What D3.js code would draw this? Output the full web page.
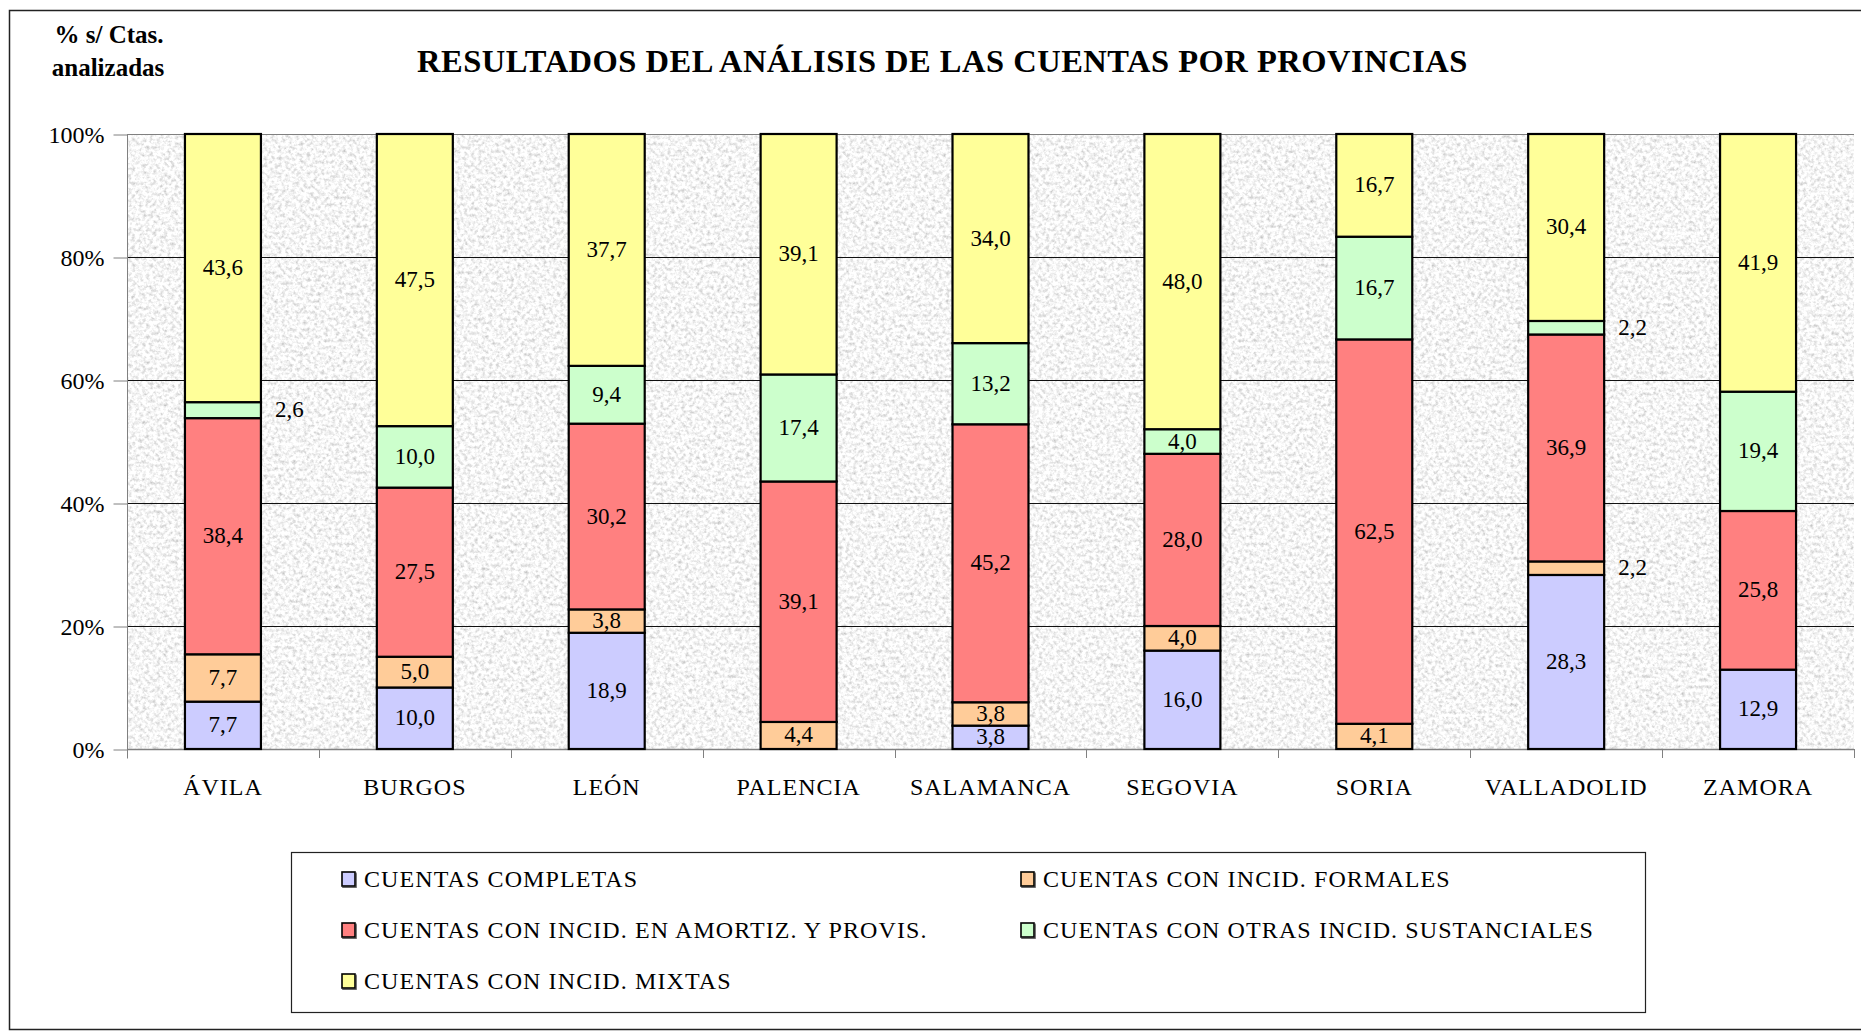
<!DOCTYPE html>
<html>
<head>
<meta charset="utf-8">
<script src="https://cdn.jsdelivr.net/npm/d3@7/dist/d3.min.js"></script>
<style>
  body { margin: 0; background: #fff; }
  svg { display: block; font-family: "Liberation Serif", "Times New Roman", serif; }
</style>
</head>
<body>
<div id="app"></div>
<script>
// provinces and series (bottom to top of each bar)
var provincias = ['ÁVILA', 'BURGOS', 'LEÓN', 'PALENCIA', 'SALAMANCA', 'SEGOVIA', 'SORIA', 'VALLADOLID', 'ZAMORA'];
var series = ['CUENTAS COMPLETAS', 'CUENTAS CON INCID. FORMALES', 'CUENTAS CON INCID. EN AMORTIZ. Y PROVIS.',
              'CUENTAS CON OTRAS INCID. SUSTANCIALES', 'CUENTAS CON INCID. MIXTAS'];
var completas   = [7.7, 10.0, 18.9, 0,    3.8, 16.0, 0,    28.3, 12.9];
var formales    = [7.7, 5.0,  3.8,  4.4,  3.8, 4.0,  4.1,  2.2,  0];
var amortiz     = [38.4, 27.5, 30.2, 39.1, 45.2, 28.0, 62.5, 36.9, 25.8];
var otras       = [2.6, 10.0, 9.4,  17.4, 13.2, 4.0,  16.7, 2.2,  19.4];
var mixtas      = [43.6, 47.5, 37.7, 39.1, 34.0, 48.0, 16.7, 30.4, 41.9];
var yTicks = [0, 20, 40, 60, 80, 100];
var colores = ['#ccccff', '#ffcc99', '#ff8080', '#ccffcc', '#ffff99'];

var width = 1861, height = 1033;
var margin = {left: 127, right: 7, top: 134, bottom: 284};

var svg = d3.select('#app').append('svg').attr('width', width).attr('height', height);

// granite-like plot background
var defs = svg.append('defs');
var f = defs.append('filter').attr('id', 'granito').attr('x', 0).attr('y', 0).attr('width', 1).attr('height', 1);
f.append('feTurbulence').attr('type', 'fractalNoise').attr('baseFrequency', 0.28).attr('numOctaves', 3).attr('seed', 7);
f.append('feColorMatrix').attr('type', 'matrix')
  .attr('values', '0.9 0 0 0 0.47  0.9 0 0 0 0.47  0.9 0 0 0 0.47  0 0 0 0 1');

// swatch shadow
var sh = defs.append('filter').attr('id', 'sombra');
sh.append('feDropShadow').attr('dx', 1).attr('dy', 1.5).attr('stdDeviation', 0.6).attr('flood-color', '#555');

// outer frame
svg.append('rect').attr('x', 9.5).attr('y', 10.5).attr('width', 1870).attr('height', 1019)
  .attr('fill', 'none').attr('stroke', '#222').attr('stroke-width', 1.5);

var rows = provincias.map(function(p, i) {
  return {prov: p, s0: completas[i], s1: formales[i], s2: amortiz[i], s3: otras[i], s4: mixtas[i]};
});
var keys = ['s0', 's1', 's2', 's3', 's4'];
var stack = d3.stack().keys(keys)(rows);

var x = d3.scaleBand().domain(provincias).range([margin.left, width - margin.right])
  .paddingInner(0.604).paddingOuter(0.302);
var y = d3.scaleLinear().domain([0, 100]).range([height - margin.bottom, margin.top]);

svg.append('rect').attr('x', margin.left).attr('y', margin.top)
  .attr('width', width - margin.right - margin.left).attr('height', y(0) - margin.top)
  .attr('filter', 'url(#granito)');

// gridlines
svg.append('g').selectAll('line').data(yTicks.filter(function(d) { return d > 0; })).enter().append('line')
  .attr('x1', margin.left).attr('x2', width - margin.right)
  .attr('y1', function(d) { return y(d) + 0.5; }).attr('y2', function(d) { return y(d) + 0.5; })
  .attr('stroke', function(d) { return d === 100 ? '#808080' : '#111'; }).attr('stroke-width', 1);

// y axis
var yAxis = d3.axisLeft(y).tickValues(yTicks).tickSize(14).tickPadding(9)
  .tickFormat(function(d) { return d + '%'; });
var gy = svg.append('g').attr('transform', 'translate(' + (margin.left + 0.5) + ',0.5)').call(yAxis);
gy.select('.domain').attr('stroke', '#808080').attr('d', 'M0,' + (margin.top - 0.5) + 'V' + (y(0) + 9));
gy.selectAll('.tick line').attr('stroke', '#808080');
gy.selectAll('text').attr('font-size', 24).attr('font-family', 'Liberation Serif').attr('fill', '#000');

// x axis: ticks on the band boundaries
svg.append('line').attr('x1', margin.left).attr('x2', width - margin.right)
  .attr('y1', y(0) + 0.5).attr('y2', y(0) + 0.5).attr('stroke', '#808080').attr('stroke-width', 1.5);
svg.append('g').selectAll('line').data(provincias).enter().append('line')
  .attr('x1', function(d) { return Math.round(x(d) + x.bandwidth() + x.step() * x.paddingInner() / 2) + 0.5; })
  .attr('x2', function(d) { return Math.round(x(d) + x.bandwidth() + x.step() * x.paddingInner() / 2) + 0.5; })
  .attr('y1', y(0)).attr('y2', y(0) + 9).attr('stroke', '#808080');
svg.append('g').selectAll('text').data(provincias).enter().append('text')
  .attr('x', function(d) { return x(d) + x.bandwidth() / 2; })
  .attr('y', y(0) + 46).attr('text-anchor', 'middle').attr('font-size', 24).attr('letter-spacing', 1)
  .text(function(d) { return d; });

// bars
var fmt = function(v) { return d3.format('.1f')(v).replace('.', ','); };
var capas = svg.append('g').selectAll('g').data(stack).enter().append('g')
  .attr('fill', function(d, i) { return colores[i]; });
capas.selectAll('rect').data(function(d) { return d.filter(function(s) { return s[1] - s[0] > 0; }); })
  .enter().append('rect')
  .attr('x', function(d) { return x(d.data.prov); })
  .attr('y', function(d) { return y(d[1]); })
  .attr('width', x.bandwidth())
  .attr('height', function(d) { return y(d[0]) - y(d[1]); })
  .attr('stroke', '#000').attr('stroke-width', 2.2);

// value labels
var etiquetas = [];
stack.forEach(function(capa) {
  capa.forEach(function(s) {
    var v = s[1] - s[0];
    if (v > 0) etiquetas.push({v: v, prov: s.data.prov, mid: (s[0] + s[1]) / 2});
  });
});
svg.append('g').selectAll('text').data(etiquetas).enter().append('text')
  .attr('x', function(d) {
    return d.v < 3 ? x(d.prov) + x.bandwidth() + 14 : x(d.prov) + x.bandwidth() / 2;
  })
  .attr('y', function(d) { return y(d.mid) + 7; })
  .attr('text-anchor', function(d) { return d.v < 3 ? 'start' : 'middle'; })
  .attr('font-size', 23)
  .text(function(d) { return fmt(d.v); });

// titles
svg.append('text').attr('x', 794 * 1.1869).attr('y', 72).attr('text-anchor', 'middle')
  .attr('font-size', 32.5).attr('font-weight', 'bold').attr('letter-spacing', 0.5)
  .text('RESULTADOS DEL ANÁLISIS DE LAS CUENTAS POR PROVINCIAS');
svg.append('text').attr('x', 109).attr('y', 43).attr('text-anchor', 'middle')
  .attr('font-size', 25).attr('font-weight', 'bold').text('% s/ Ctas.');
svg.append('text').attr('x', 108).attr('y', 76).attr('text-anchor', 'middle')
  .attr('font-size', 25).attr('font-weight', 'bold').text('analizadas');

// legend
var leg = svg.append('g');
leg.append('rect').attr('x', 291.5).attr('y', 852.5).attr('width', 1354).attr('height', 160)
  .attr('fill', '#fff').attr('stroke', '#222').attr('stroke-width', 1.2);
var legPos = [[342, 879], [1021, 879], [342, 930], [1021, 930], [342, 981]];
var item = leg.selectAll('g.item').data(series).enter().append('g')
  .attr('transform', function(d, i) { return 'translate(' + legPos[i][0] + ',' + legPos[i][1] + ')'; });
item.append('rect').attr('x', 0).attr('y', -7).attr('width', 13).attr('height', 14)
  .attr('fill', function(d, i) { return colores[i]; }).attr('stroke', '#000').attr('stroke-width', 1.6)
  .attr('filter', 'url(#sombra)');
item.append('text').attr('x', 22).attr('y', 8).attr('font-size', 24).attr('letter-spacing', 1.1)
  .text(function(d) { return d; });
</script>
</body>
</html>
